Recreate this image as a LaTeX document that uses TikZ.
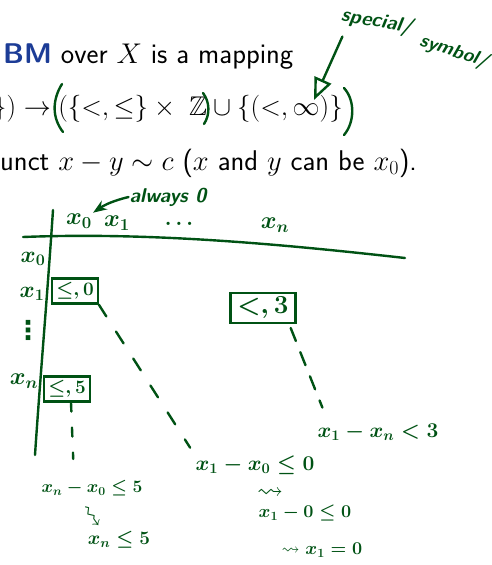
\RequirePackage{fix-cm}
\documentclass[tikz,border=0pt]{standalone}
\usepackage{amssymb}
\usepackage{fontspec}
\newfontfamily\dejavu{DejaVu Sans}
\usetikzlibrary{arrows.meta}
\definecolor{inkgreen}{RGB}{0,82,20}
\definecolor{bmblue}{RGB}{28,60,150}
\begin{document}
\begin{tikzpicture}[x=1pt, y=-1pt, >=Stealth,
    ink/.style={draw=inkgreen, line width=2.4pt, line cap=round},
    hand/.style={text=inkgreen, inner sep=1pt, font=\fontsize{21}{24}\selectfont\sffamily\bfseries\boldmath},
    word/.style={hand, font=\fontsize{20}{22}\selectfont\sffamily\bfseries\itshape},
    entry/.style={hand, draw=inkgreen, line width=2.2pt, inner sep=4pt},
    slide/.style={anchor=base west, inner sep=0pt, font=\fontsize{28.5}{32}\selectfont\sffamily}]
  \useasboundingbox (0,0) rectangle (492,565);
  \clip (0,0) rectangle (492,565);

  % slide text
  \node[slide] (line1) at (3,63) {\textcolor{bmblue}{\bfseries BM} over $X$ is a mapping};
  \node[slide, font=\fontsize{27}{32}\selectfont] (line2) at (-7,115)
    {$\})\to(\{<,\leq\}\times\hspace{8pt}\mathbb{Z}\cup\{(<,\infty)\}$};
  \node[slide] (line3) at (0,170) {unct $x-y\sim c$ ($x$ and $y$ can be $x_0$).};

  % handwritten brackets
  \draw[ink] (62,84) .. controls (52,100) and (52,118) .. (63,132);
  \draw[ink] (203,93) .. controls (210,102) and (210,115) .. (204,124);
  \draw[ink] (344,88) .. controls (355,100) and (355,122) .. (344,135);

  \node[word, rotate=-10] (special) at (377,22) {special/};
  \node[word, rotate=-18, font=\fontsize{19}{22}\selectfont\sffamily\bfseries\itshape] (symbol) at (454,52) {symbol/};
  \coordinate (inf) at (314,100);
  \draw[ink, -{Triangle[open, length=22pt, width=18pt]}] ([shift={(4,10)}]special.south west) -- (inf);

  % table
  \draw[ink] (53,210) .. controls (47,300) and (40,380) .. (35,455);
  \draw[ink] (23,237) .. controls (150,232) and (280,244) .. (405,258);

  \node[hand, font=\fontsize{24}{26}\selectfont\boldmath] (c0) at (79,221) {$x_0$};
  \node[hand, font=\fontsize{24}{26}\selectfont\boldmath] (c1) at (117,223) {$x_1$};
  \node[hand] (cdots) at (179,224) {$\ldots$};
  \node[hand, font=\fontsize{24}{26}\selectfont\boldmath] (cn) at (275,225) {$x_n$};
  \node[hand, font=\fontsize{23}{26}\selectfont\boldmath] (r0) at (33,259) {$x_0$};
  \node[hand, font=\fontsize{23}{26}\selectfont\boldmath] (r1) at (32,294) {$x_1$};
  \node[hand, font=\fontsize{26}{28}\selectfont\dejavu\bfseries] (rdots) at (28,330) {⋮};
  \node[hand, font=\fontsize{24}{26}\selectfont\boldmath] (rn) at (24,381) {$x_n$};

  \node[word] (always) at (168,197) {always 0};
  \draw[ink, ->] (always.west) to[bend right=10] (c0.north east);

  % entries
  \node[entry, font=\fontsize{19}{22}\selectfont\boldmath] (e10) at (75,291) {$\leq,0$};
  \node[entry, font=\fontsize{26}{28}\selectfont\boldmath, inner xsep=7pt] (e1n) at (263,308) {$<,3$};
  \node[entry, font=\fontsize{19}{22}\selectfont\boldmath] (en0) at (67,389) {$\leq,5$};

  % constraints
  \node[hand] (res1n) at (378,432) {$x_1 - x_n < 3$};
  \node[hand] (res10) at (255,465) {$x_1 - x_0 \leq 0$};
  \node[hand, font=\fontsize{17.5}{22}\selectfont\boldmath] (resn0) at (92,488) {$x_n - x_0 \leq 5$};
  \node[hand, font=\fontsize{26}{28}\selectfont\boldmath] (sq1) at (270,494) {$\leadsto$};
  \node[hand, font=\fontsize{18}{22}\selectfont\boldmath] (step1) at (305,513) {$x_1 - 0 \leq 0$};
  \node[hand, font=\fontsize{18}{22}\selectfont\boldmath] (step2) at (322,550) {$\leadsto x_1 = 0$};
  \node[hand, rotate=-55, font=\fontsize{26}{28}\selectfont\boldmath] (sqn) at (91,517) {$\leadsto$};
  \node[hand, font=\fontsize{19}{22}\selectfont\boldmath] (stepn) at (119,540) {$x_n \leq 5$};

  \draw[ink, dash pattern=on 14pt off 18pt, shorten >=8pt] (e10.south east) -- (res10.north west);
  \draw[ink, dash pattern=on 14pt off 12pt, shorten >=16pt] ([shift={(-6,4)}]e1n.south east) -- ([xshift=12pt]res1n.north west);
  \draw[ink, dash pattern=on 9pt off 16pt, shorten >=20pt] ([xshift=4pt]en0.south) -- ([xshift=-18pt]resn0.north);
\end{tikzpicture}
\end{document}
